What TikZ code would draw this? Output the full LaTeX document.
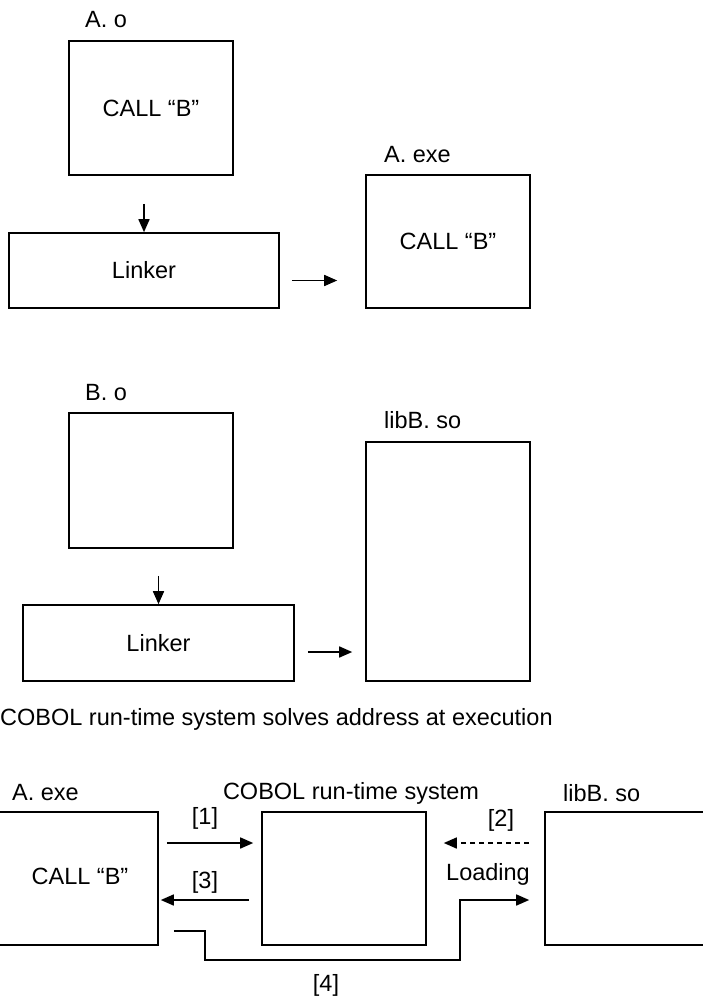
\documentclass[tikz,border=0pt]{standalone}
\usepackage{fontspec}
\setmainfont{Liberation Sans}
\usepackage{tikz}
\usetikzlibrary{arrows.meta,positioning,calc}
\tikzset{
  box/.style={draw,line width=1.6pt,inner sep=0pt,
              font=\fontsize{23.5}{27}\selectfont},
  lbl/.style={inner sep=0pt,font=\fontsize{23.5}{27}\selectfont},
  arr/.style={-{Triangle[length=13pt,width=11pt]},line width=1.6pt},
  arrdash/.style={arr,dash pattern=on 5pt off 4pt},
}
\begin{document}
\begin{tikzpicture}[x=1pt,y=-1pt]
\useasboundingbox (0,0) rectangle (703,999);
% A.o -> A.exe
\node[box,minimum width=164pt,minimum height=134pt] (Ao) at (151,108) {CALL “B”};
\node[box,minimum width=270pt,minimum height=75pt] (linkA) at (144,270.5) {Linker};
\node[box,minimum width=164pt,minimum height=133pt] (Aexe) at (448,241.5) {CALL “B”};
\node[lbl,anchor=west] (lAo) at (85,20) {A. o};
\node[lbl,anchor=west] (lAexe) at (384,155) {A. exe};
\draw[arr,shorten <=28pt] (linkA.north |- Ao.south) -- (linkA.north);
\draw[arr,shorten <=12pt,shorten >=28pt] ([shift={(0,10)}]linkA.east) -- ([shift={(0,10)}]linkA.east -| Aexe.west);
% B.o -> libB.so
\node[box,minimum width=164pt,minimum height=135pt] (Bo) at (151,480.5) {};
\node[box,minimum width=271pt,minimum height=76pt] (linkB) at (158.5,643) {Linker};
\node[box,minimum width=164pt,minimum height=239pt] (libB) at (448,561.5) {};
\node[lbl,anchor=west] (lBo) at (85,393) {B. o};
\node[lbl,anchor=west] (llibB) at (384,420) {libB. so};
\draw[arr,shorten <=27pt] (linkB.north |- Bo.south) -- (linkB.north);
\draw[arr,shorten <=13pt,shorten >=13pt] ([shift={(0,9)}]linkB.east) -- ([shift={(0,9)}]linkB.east -| libB.west);
% run-time
\node[lbl,anchor=west] (caption) at (0,719) {COBOL run-time system solves address at execution};
\node[box,minimum width=164pt,minimum height=133pt] (Aexe2) at (76,878.5) {};
\node[lbl] at (80,876) {CALL “B”};
\node[box,minimum width=164pt,minimum height=133pt] (cobol) at (344,878.5) {};
\node[box,minimum width=164pt,minimum height=133pt] (libB2) at (627,878.5) {};
\node[lbl,anchor=west] (lAexe2) at (12,793) {A. exe};
\node[lbl] (lcobol) at (351,793) {COBOL run-time system};
\node[lbl,anchor=west] (llibB2) at (563,793) {libB. so};
\draw[arr,shorten <=8pt,shorten >=8pt] ([shift={(0,-35.5)}]Aexe2.east) -- ([shift={(0,-35.5)}]Aexe2.east -| cobol.west);
\draw[arrdash,shorten <=15pt,shorten >=17pt] ([shift={(0,-35.5)}]libB2.west) -- ([shift={(0,-35.5)}]libB2.west -| cobol.east);
\draw[arr,shorten <=12pt,shorten >=2pt] ([shift={(0,21.5)}]cobol.west) -- ([shift={(0,21.5)}]cobol.west -| Aexe2.east);
\draw[arr] ([shift={(15,52.5)}]Aexe2.east) -- ++(31,0) -- ++(0,29) -- ++(255,0)
  |- ([shift={(-15,21.5)}]libB2.west);
\node[lbl] (n1) at (205,818) {[1]};
\node[lbl] (n2) at (501,820) {[2]};
\node[lbl] (n3) at (205,882) {[3]};
\node[lbl] (load) at (488,874) {Loading};
\node[lbl] (n4) at (326,985) {[4]};
\end{tikzpicture}
\end{document}
